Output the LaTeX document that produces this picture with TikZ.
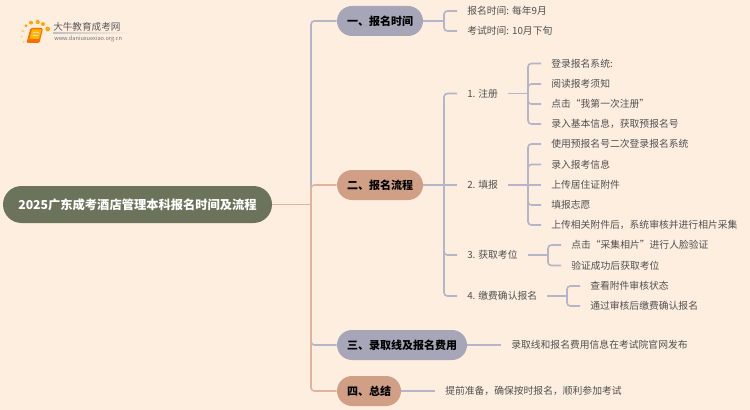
\documentclass[tikz,border=0pt]{standalone}
\usepackage{fontspec}
\setmainfont{Noto Sans CJK SC}
\definecolor{bgcol}{HTML}{FEEEE0}
\definecolor{rootcol}{HTML}{6B735A}
\definecolor{greycol}{HTML}{A6A6B8}
\definecolor{tancol}{HTML}{D09F85}
\definecolor{greyline}{HTML}{B5B5C9}
\definecolor{tanline}{HTML}{E0B49A}
\definecolor{txtcol}{HTML}{505050}
\begin{document}
\begin{tikzpicture}[x=.75pt, y=-.75pt,
  root/.style={rounded corners=18.5*.75pt, fill=rootcol, text=white, font=\bfseries\fontsize{9.2pt}{11pt}\selectfont, minimum height=37*.75pt, minimum width=269*.75pt, inner sep=0pt},
  head/.style={rounded corners=15*.75pt, fill=#1, text=black, font=\bfseries\fontsize{8.25pt}{10pt}\selectfont, minimum height=30*.75pt, inner sep=0pt},
  item/.style={anchor=west, text=txtcol, font=\fontsize{7.35pt}{9pt}\selectfont, inner xsep=7.5pt, inner ysep=0pt},
  greylink/.style={draw=greyline, line width=1.2pt, rounded corners=2.5pt},
  tanlink/.style={draw=tanline, line width=1.2pt, rounded corners=2.5pt}]
%Hintergrund
\fill[bgcol] (0,0) rectangle (750,410);
\useasboundingbox (0,0) rectangle (750,410);
%Logo
\fill[orange!70!yellow] (26,25.7) circle (1.6) (31,22.7) circle (2) (37.7,22) circle (2.1) (43,24) circle (2) (47.7,29) circle (2.4);
\fill[orange!45!yellow!70] (22.7,31) circle (1.4) (21.7,36.7) circle (1.1) (23.7,42) circle (1);
\fill[orange!85!red, rounded corners=1pt] (26.5,43) -- (30.5,28) -- (43,28) -- (39.5,43) -- cycle;
\fill[orange!55!yellow] (29.5,39) -- (32,29.5) -- (41.5,29.5) -- (39,39) -- cycle;
\draw[white!70!orange, line width=.5pt] (33,32.5) -- (38.5,32.5) (32.5,35) -- (38,35);
\node[anchor=west, inner sep=0pt, text=black!65, font=\fontsize{7.2pt}{9pt}\selectfont] (logotext) at (53,27) {大牛教育成考网};
\node[anchor=west, inner sep=0pt, text=black!55, font=\fontsize{4.2pt}{5pt}\selectfont] (logourl) at (54,39) {www.daniuxuexiao.org.cn};
\shade[left color=black!25, right color=bgcol] (53,33) rectangle (130,33.8);
%Hauptknoten
\node[root] (main) at (137.5,204.5) {2025广东成考酒店管理本科报名时间及流程};
\node[head=greycol, minimum width=86*.75pt] (sec1) at (380,21) {一、报名时间};
\node[head=tancol, minimum width=86*.75pt] (sec2) at (380,185) {二、报名流程};
\node[head=greycol, minimum width=130*.75pt] (sec3) at (402,345) {三、录取线及报名费用};
\node[head=tancol, minimum width=64*.75pt] (sec4) at (369,391) {四、总结};
%Erste Ebene
\node[item] (t11) at (457,11) {报名时间: 每年9月};
\node[item] (t12) at (457,31) {考试时间: 10月下旬};
\node[item] (s1) at (457,93.5) {1. 注册};
\node[item] (s2) at (457,185) {2. 填报};
\node[item] (s3) at (457,255) {3. 获取考位};
\node[item] (s4) at (457,296) {4. 缴费确认报名};
\node[item] (t31) at (501,345) {录取线和报名费用信息在考试院官网发布};
\node[item] (t41) at (435,391) {提前准备，确保按时报名，顺利参加考试};
%Zweite Ebene
\node[item] (a1) at (541,63.5) {登录报名系统:};
\node[item] (a2) at (541,84) {阅读报考须知};
\node[item] (a3) at (541,104) {点击“我第一次注册”};
\node[item] (a4) at (541,124) {录入基本信息，获取预报名号};
\node[item] (b1) at (541,144) {使用预报名号二次登录报名系统};
\node[item] (b2) at (541,164.5) {录入报考信息};
\node[item] (b3) at (541,185) {上传居住证附件};
\node[item] (b4) at (541,205) {填报志愿};
\node[item] (b5) at (541,225) {上传相关附件后，系统审核并进行相片采集};
\node[item] (c1) at (561,245) {点击“采集相片”进行人脸验证};
\node[item] (c2) at (561,265.5) {验证成功后获取考位};
\node[item] (d1) at (580,286) {查看附件审核状态};
\node[item] (d2) at (580,306) {通过审核后缴费确认报名};
%Knotenpunkte
\coordinate (trunk) at (311,204.5);
\coordinate (j1) at (444,21);
\coordinate (j2) at (444,185);
\coordinate (ja) at (528,93.5);
\coordinate (jb) at (528,185);
\coordinate (jc) at (548,255);
\coordinate (jd) at (567,296);
%Linien
\draw[greylink] (trunk) |- (sec1.west);
\draw[greylink] (trunk) |- (sec3.west);
\draw[tanlink] (main.east) -- (trunk);
\draw[tanlink] (trunk) |- (sec2.west);
\draw[tanlink] (trunk) |- (sec4.west);
\draw[greylink] (sec1.east) -- (j1);
\draw[greylink] (j1) |- (t11.west);
\draw[greylink] (j1) |- (t12.west);
\draw[greylink] (sec2.east) -- (s2.west);
\draw[greylink] (j2) |- (s1.west);
\draw[greylink] (j2) |- (s3.west);
\draw[greylink] (j2) |- (s4.west);
\draw[greylink] (sec3.east) -- (t31.west);
\draw[greylink] (sec4.east) -- (t41.west);
\draw[greylink] (s1.east) -- (ja);
\draw[greylink] (s2.east) -- (jb);
\draw[greylink] (s3.east) -- (jc);
\draw[greylink] (s4.east) -- (jd);
\draw[greylink] (ja) |- (a1.west);
\draw[greylink] (ja) |- (a2.west);
\draw[greylink] (ja) |- (a3.west);
\draw[greylink] (ja) |- (a4.west);
\draw[greylink] (jb) |- (b1.west);
\draw[greylink] (jb) |- (b2.west);
\draw[greylink] (jb) -- (b3.west);
\draw[greylink] (jb) |- (b4.west);
\draw[greylink] (jb) |- (b5.west);
\draw[greylink] (jc) |- (c1.west);
\draw[greylink] (jc) |- (c2.west);
\draw[greylink] (jd) |- (d1.west);
\draw[greylink] (jd) |- (d2.west);
\end{tikzpicture}
\end{document}
